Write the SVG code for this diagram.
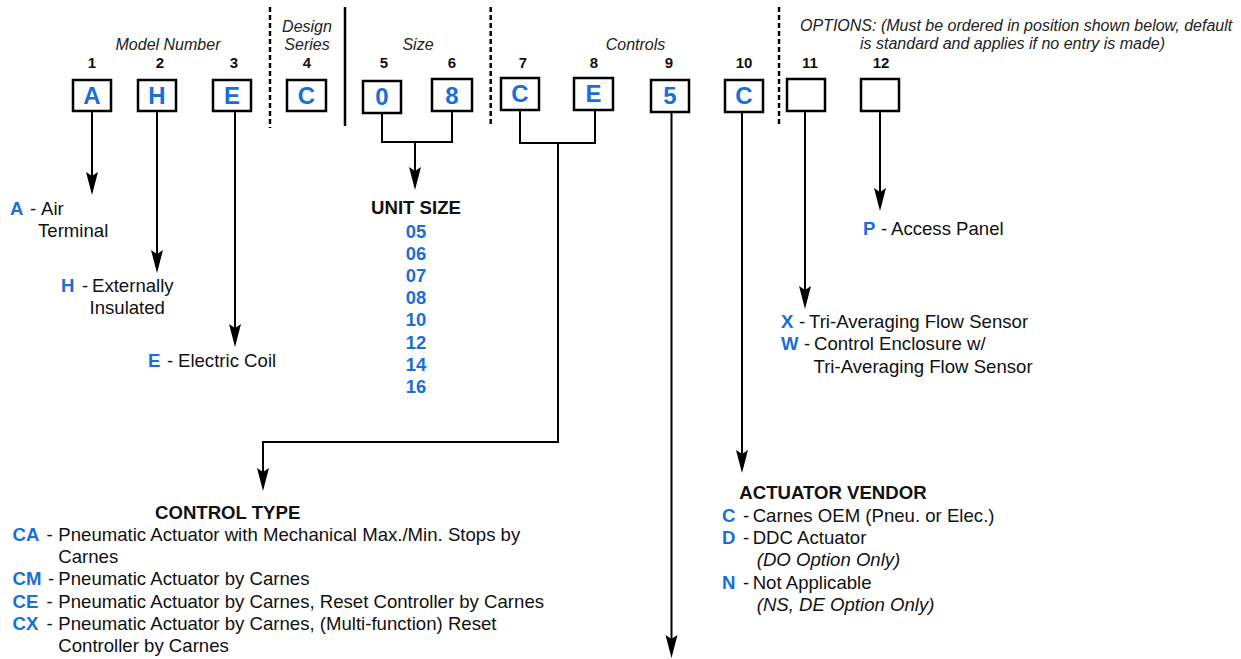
<svg xmlns="http://www.w3.org/2000/svg" width="1241" height="659" viewBox="0 0 1241 659">
<style>
.bg{fill:#fff}
.box{fill:#fff;stroke:#000;stroke-width:2.5}
.bl{font-family:"Liberation Sans",Arial,sans-serif;font-weight:bold;font-size:24px;fill:#1a6ed8;text-anchor:middle}
.num{font-family:"Liberation Sans",Arial,sans-serif;font-weight:bold;font-size:15px;fill:#111;text-anchor:middle}
.hdr{font-family:"Liberation Sans",Arial,sans-serif;font-style:italic;font-size:16px;fill:#222}
.mid{text-anchor:middle}
.t{font-family:"Liberation Sans",Arial,sans-serif;font-size:18.6px;fill:#111}
.it{font-style:italic}
.k{font-weight:bold;fill:#1a6ed8}
.h2{font-family:"Liberation Sans",Arial,sans-serif;font-weight:bold;font-size:18.6px;fill:#111}
.kv{font-family:"Liberation Sans",Arial,sans-serif;font-weight:bold;font-size:18.4px;fill:#1a6ed8;text-anchor:middle}
.conn{fill:none;stroke:#000;stroke-width:2}
.sep{fill:none;stroke:#000;stroke-width:2.4;stroke-dasharray:5 3}
.solid{fill:none;stroke:#000;stroke-width:2.5}
</style>
<defs>
<marker id="arr" markerUnits="userSpaceOnUse" markerWidth="30" markerHeight="16" refX="0" refY="0" orient="auto" overflow="visible">
<path d="M10,0 L-13,-6 L-9,0 L-13,6 Z" fill="#000"/>
</marker>
</defs>
<rect class="bg" x="0" y="0" width="1241" height="659"/>

<g id="separators">
<line class="sep" x1="270" y1="7" x2="270" y2="128"/>
<line class="solid" x1="345" y1="7" x2="345" y2="126"/>
<line class="sep" x1="490.7" y1="7" x2="490.7" y2="126"/>
<line class="sep" x1="779" y1="7" x2="779" y2="127"/>
</g>

<g id="headers">
<text class="hdr mid" x="168" y="49.5">Model Number</text>
<text class="hdr mid" x="307" y="31.5">Design</text>
<text class="hdr mid" x="307" y="49.5">Series</text>
<text class="hdr mid" x="418" y="49.5">Size</text>
<text class="hdr mid" x="635.5" y="49.5">Controls</text>
<text class="hdr" x="800" y="31">OPTIONS: (Must be ordered in position shown below, default</text>
<text class="hdr" x="860" y="49">is standard and applies if no entry is made)</text>
</g>

<g id="connectors">
<path class="conn" d="M92,111 V185" marker-end="url(#arr)"/>
<path class="conn" d="M157,111 V263" marker-end="url(#arr)"/>
<path class="conn" d="M235,111 V337" marker-end="url(#arr)"/>
<path class="conn" d="M382,113 V142 H452 V111"/>
<path class="conn" d="M415,142 V180" marker-end="url(#arr)"/>
<path class="conn" d="M520,110 V143 H595 V110"/>
<path class="conn" d="M558,143 V442 H263 V481" marker-end="url(#arr)"/>
<path class="conn" d="M671.5,112 V648" marker-end="url(#arr)"/>
<path class="conn" d="M742,112 V463" marker-end="url(#arr)"/>
<path class="conn" d="M805,111 V299" marker-end="url(#arr)"/>
<path class="conn" d="M880,111 V201" marker-end="url(#arr)"/>
</g>

<g id="pos1"><text class="num" x="92" y="68">1</text><rect class="box" x="73" y="80" width="38" height="31"/><text class="bl" x="92" y="104">A</text></g>
<g id="pos2"><text class="num" x="160" y="68">2</text><rect class="box" x="138" y="80" width="38" height="31"/><text class="bl" x="157" y="104">H</text></g>
<g id="pos3"><text class="num" x="234" y="68">3</text><rect class="box" x="213" y="80" width="38" height="31"/><text class="bl" x="232" y="104">E</text></g>
<g id="pos4"><text class="num" x="307" y="68">4</text><rect class="box" x="287" y="80" width="39" height="31"/><text class="bl" x="306.5" y="104">C</text></g>
<g id="pos5"><text class="num" x="384" y="68">5</text><rect class="box" x="363" y="81" width="38" height="32"/><text class="bl" x="382" y="105">0</text></g>
<g id="pos6"><text class="num" x="452" y="68">6</text><rect class="box" x="432" y="79" width="40" height="32"/><text class="bl" x="452" y="104">8</text></g>
<g id="pos7"><text class="num" x="523" y="68">7</text><rect class="box" x="501" y="78" width="38" height="32"/><text class="bl" x="520" y="102">C</text></g>
<g id="pos8"><text class="num" x="594" y="68">8</text><rect class="box" x="574" y="78" width="39" height="32"/><text class="bl" x="593.5" y="102">E</text></g>
<g id="pos9"><text class="num" x="669" y="68">9</text><rect class="box" x="651" y="80" width="38" height="32"/><text class="bl" x="670" y="104">5</text></g>
<g id="pos10"><text class="num" x="744" y="68">10</text><rect class="box" x="725" y="80" width="38" height="32"/><text class="bl" x="744" y="104">C</text></g>
<g id="pos11"><text class="num" x="810" y="68">11</text><rect class="box" x="787" y="79" width="38" height="32"/></g>
<g id="pos12"><text class="num" x="881" y="68">12</text><rect class="box" x="861" y="79" width="38" height="32"/></g>

<g id="model-A">
<text class="t" y="214.5"><tspan class="k" x="10">A</tspan><tspan x="30">-</tspan><tspan x="41">Air</tspan></text>
<text class="t" x="38" y="236.5">Terminal</text>
</g>
<g id="model-H">
<text class="t" y="291.5"><tspan class="k" x="61">H</tspan><tspan x="82">-</tspan><tspan x="92">Externally</tspan></text>
<text class="t" x="89.5" y="314">Insulated</text>
</g>
<g id="model-E">
<text class="t" y="366.5"><tspan class="k" x="148">E</tspan><tspan x="167">-</tspan><tspan x="178">Electric Coil</tspan></text>
</g>

<g id="unit-size">
<text class="h2 mid" x="416" y="213.5">UNIT SIZE</text>
<text class="kv" x="416" y="237.5">05</text>
<text class="kv" x="416" y="259.7">06</text>
<text class="kv" x="416" y="281.9">07</text>
<text class="kv" x="416" y="304.1">08</text>
<text class="kv" x="416" y="326.3">10</text>
<text class="kv" x="416" y="348.5">12</text>
<text class="kv" x="416" y="370.7">14</text>
<text class="kv" x="416" y="392.9">16</text>
</g>

<g id="access-panel">
<text class="t" y="234.7"><tspan class="k" x="863">P</tspan><tspan x="881">-</tspan><tspan x="891">Access Panel</tspan></text>
</g>

<g id="flow-sensor">
<text class="t" y="328"><tspan class="k" x="781">X</tspan><tspan x="799">-</tspan><tspan x="809">Tri-Averaging Flow Sensor</tspan></text>
<text class="t" y="350"><tspan class="k" x="781">W</tspan><tspan x="804">-</tspan><tspan x="814">Control Enclosure w/</tspan></text>
<text class="t" x="813.5" y="372.5">Tri-Averaging Flow Sensor</text>
</g>

<g id="control-type">
<text class="h2" x="155" y="518.5">CONTROL TYPE</text>
<text class="t" y="540.5"><tspan class="k" x="12.5">CA</tspan><tspan x="46.5">-</tspan><tspan x="58.3">Pneumatic Actuator with Mechanical Max./Min. Stops by</tspan></text>
<text class="t" x="58.3" y="562.8">Carnes</text>
<text class="t" y="585.4"><tspan class="k" x="12.5">CM</tspan><tspan x="48">-</tspan><tspan x="58.3">Pneumatic Actuator by Carnes</tspan></text>
<text class="t" y="607.6"><tspan class="k" x="12.5">CE</tspan><tspan x="46.5">-</tspan><tspan x="58.3">Pneumatic Actuator by Carnes, Reset Controller by Carnes</tspan></text>
<text class="t" y="629.8"><tspan class="k" x="12.5">CX</tspan><tspan x="46.5">-</tspan><tspan x="58.3">Pneumatic Actuator by Carnes, (Multi-function) Reset</tspan></text>
<text class="t" x="58.3" y="652">Controller by Carnes</text>
</g>

<g id="actuator-vendor">
<text class="h2" x="739.3" y="499">ACTUATOR VENDOR</text>
<text class="t" y="521.5"><tspan class="k" x="722">C</tspan><tspan x="743">-</tspan><tspan x="752.7">Carnes OEM (Pneu. or Elec.)</tspan></text>
<text class="t" y="543.7"><tspan class="k" x="722">D</tspan><tspan x="743">-</tspan><tspan x="752.7">DDC Actuator</tspan></text>
<text class="t it" x="756.7" y="566">(DO Option Only)</text>
<text class="t" y="588.5"><tspan class="k" x="722">N</tspan><tspan x="743">-</tspan><tspan x="752.7">Not Applicable</tspan></text>
<text class="t it" x="756.7" y="610.8">(NS, DE Option Only)</text>
</g>
</svg>
